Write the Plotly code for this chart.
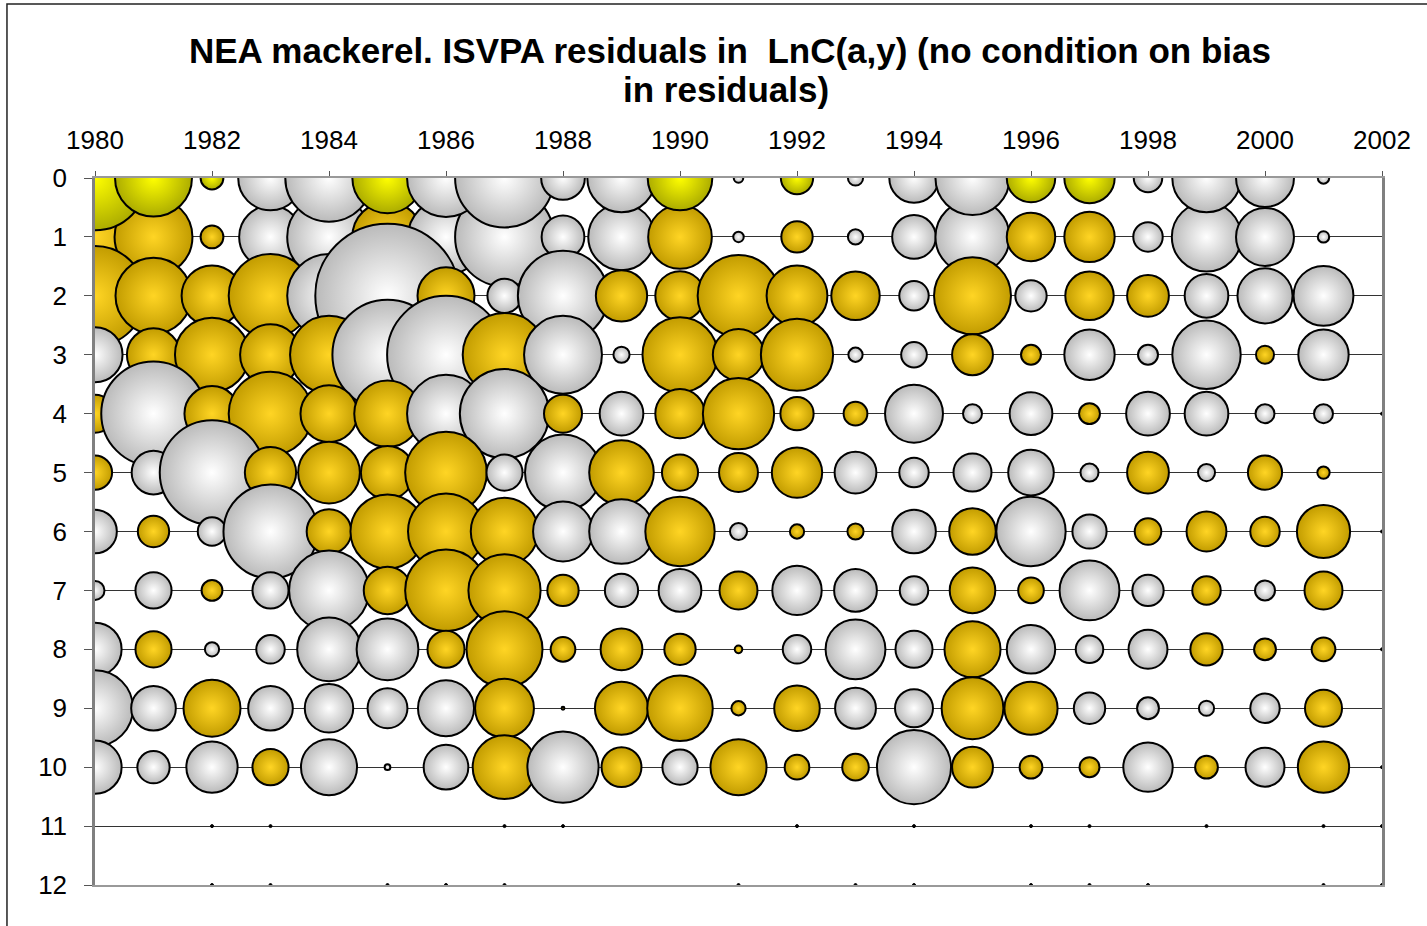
import plotly.graph_objects as go

# ISVPA log-catch residuals, one list per age (years 1980..2001)
years = list(range(1980, 2002))
ages = list(range(0, 11))

res_age0 = [1.10, 0.81, 0.24, -0.68, -0.92, 0.74, -0.82, -1.04, -0.46, -0.72, 0.68,
            -0.10, 0.34, -0.16, -0.52, -0.78, 0.51, 0.53, -0.30, -0.72, -0.61, -0.12]
res_age1 = [1.10, 0.82, 0.24, -0.66, -0.88, 0.74, -0.80, -1.04, -0.45, -0.70, 0.67,
            -0.11, 0.33, -0.16, -0.46, -0.78, 0.51, 0.53, -0.31, -0.73, -0.61, -0.12]
res_age2 = [1.05, 0.80, 0.64, 0.88, -0.88, -1.52, 0.60, -0.36, -0.95, 0.54, 0.52,
            0.86, 0.64, 0.51, -0.31, 0.81, -0.33, 0.51, 0.44, -0.46, -0.58, -0.63]
res_age3 = [-0.58, 0.56, 0.78, 0.64, 0.82, -1.16, -1.24, 0.88, -0.82, -0.17, 0.79,
            0.54, 0.76, -0.15, -0.27, 0.43, 0.21, -0.53, -0.21, -0.72, 0.19, -0.53]
res_age4 = [0.40, -1.10, 0.58, 0.88, 0.60, 0.70, -0.82, -0.94, 0.40, -0.46, 0.52,
            0.75, 0.35, 0.25, -0.61, -0.20, -0.45, 0.22, -0.46, -0.46, -0.20, -0.20]
res_age5 = [0.36, -0.46, -1.10, 0.54, 0.65, 0.56, 0.86, -0.38, -0.80, 0.68, 0.38,
            0.41, 0.53, -0.44, -0.31, -0.40, -0.48, -0.19, 0.44, -0.18, 0.36, 0.13]
res_age6 = [-0.46, 0.33, -0.30, -0.99, 0.47, 0.78, 0.80, 0.71, -0.63, -0.68, 0.73,
            -0.18, 0.15, 0.17, -0.46, 0.49, -0.73, -0.36, 0.28, 0.42, 0.31, 0.56]
res_age7 = [-0.20, -0.38, 0.22, -0.38, -0.84, 0.50, 0.86, 0.76, 0.33, -0.35, -0.45,
            0.40, -0.52, -0.45, -0.30, 0.48, 0.27, -0.63, -0.33, 0.30, -0.21, 0.40]
res_age8 = [-0.56, 0.38, -0.15, -0.30, -0.67, -0.65, 0.39, 0.80, 0.26, 0.44, 0.33,
            0.08, -0.30, -0.63, -0.39, 0.59, -0.51, -0.29, -0.41, 0.34, 0.23, 0.25]
res_age9 = [-0.80, -0.47, 0.60, -0.47, -0.51, -0.42, -0.59, 0.62, 0.03, 0.56, 0.69,
            0.15, 0.48, -0.43, -0.40, 0.65, 0.56, -0.33, -0.23, -0.16, -0.31, 0.39]
res_age10 = [-0.56, -0.34, -0.54, 0.38, -0.59, -0.06, -0.47, 0.67, -0.75, 0.42, -0.37,
             0.59, 0.26, 0.28, -0.78, 0.43, 0.24, 0.21, -0.52, 0.24, -0.41, 0.54]

residuals = [res_age0, res_age1, res_age2, res_age3, res_age4, res_age5,
             res_age6, res_age7, res_age8, res_age9, res_age10]

# near-zero points that show as dots
dot_years = [1982, 1983, 1987, 1988, 1992, 1994, 1996, 1997, 1999, 2001, 2002,
             1982, 1983, 1985, 1986, 1987, 1991, 1993, 1994, 1996, 1997, 1998, 2001, 2002,
             2002, 2002, 2002, 2002]
dot_ages = [11] * 11 + [12] * 13 + [4, 6, 8, 10]

SCALE = 95  # px per residual unit
FONT = "Liberation Sans, Arial, sans-serif"


def bubble_style(r, pos_edge, pos_center):
    if r >= 0:
        return pos_edge, pos_center
    return "#bababa", "#ffffff"


def build(age_list, pos_edge, pos_center):
    xs, ys, sz, col, grad = [], [], [], [], []
    for a in age_list:
        for yr, r in zip(years, residuals[a]):
            e, c = bubble_style(r, pos_edge, pos_center)
            xs.append(yr)
            ys.append(a)
            sz.append(abs(r) * SCALE)
            col.append(e)
            grad.append(c)
    return go.Scatter(
        x=xs, y=ys, mode="markers", showlegend=False, hoverinfo="x+y",
        marker=dict(size=sz, sizemode="diameter", color=col, opacity=1,
                    gradient=dict(type="radial", color=grad),
                    line=dict(color="black", width=2)),
    )


fig = go.Figure()
fig.add_trace(build(ages[1:], "#c29c00", "#ffd524"))
fig.add_trace(build([0], "#acac00", "#ffff00"))
fig.add_trace(go.Scatter(
    x=dot_years, y=dot_ages, mode="markers", showlegend=False,
    marker=dict(size=3, color="black", line=dict(color="black", width=1)),
))

fig.add_annotation(text="NEA mackerel. ISVPA residuals in\u00a0 LnC(a,y) (no condition on bias",
                   x=0.4934, y=1.181, xref="paper", yref="paper", showarrow=False,
                   xanchor="center", yanchor="middle",
                   font=dict(family=FONT, size=35, color="black", weight="bold"))
fig.add_annotation(text="in residuals)",
                   x=0.49, y=1.1245, xref="paper", yref="paper", showarrow=False,
                   xanchor="center", yanchor="middle",
                   font=dict(family=FONT, size=35, color="black", weight="bold"))

# outer chart border
fig.add_shape(type="rect", xref="paper", yref="paper",
              x0=-0.0684, x1=1.06, y0=-0.1, y1=1.2461,
              line=dict(color="#222222", width=1.5))

fig.update_layout(
    width=1427, height=926,
    margin=dict(l=95, r=45, t=178, b=41),
    paper_bgcolor="white", plot_bgcolor="white",
    font=dict(family=FONT, size=26, color="black"),
    xaxis=dict(side="top", range=[1980, 2002], dtick=2, tick0=1980,
               ticks="outside", ticklen=5, tickcolor="#555555",
               showgrid=False, zeroline=False,
               showline=True, linecolor="#999999", linewidth=1.5, mirror=True,
               ticklabelstandoff=12),
    yaxis=dict(range=[12, 0], dtick=1, tick0=0,
               ticks="outside", ticklen=8, tickcolor="#555555",
               showgrid=True, gridcolor="#333333", gridwidth=1.3,
               zeroline=False,
               showline=True, linecolor="#808080", linewidth=2.5, mirror=True,
               ticklabelstandoff=12),
)

# drop the default body margin so the figure sits at the page corner
fig.write_html("out.html", config={"displayModeBar": False},
               post_script="document.body.style.margin='0';")
